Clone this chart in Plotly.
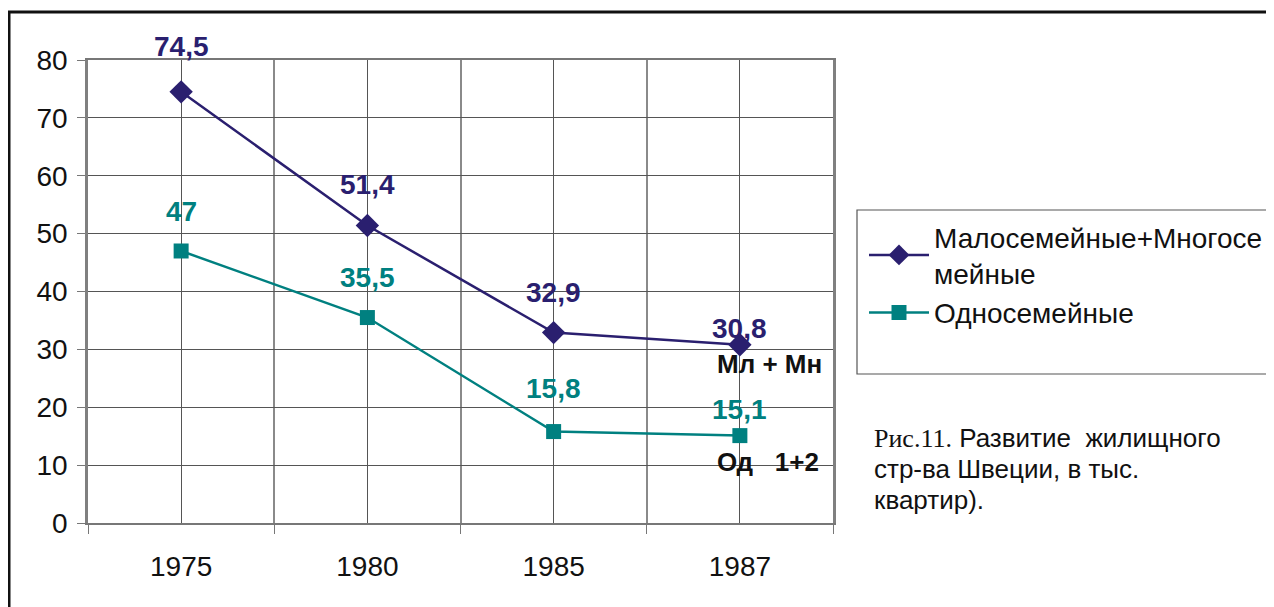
import plotly.graph_objects as go

# ---- data ----
years = ["1975", "1980", "1985", "1987"]
multi_family = [74.5, 51.4, 32.9, 30.8]   # Малосемейные+Многосемейные
single_family = [47.0, 35.5, 15.8, 15.1]  # Односемейные
name_multi = "Малосемейные+Многосе<br>мейные"
name_single = "Односемейные"
end_label_multi = "Мл + Мн"
end_label_single = "Од\u00a0\u00a0\u00a01+2"
caption_lines = [
    '<span style="font-family:\'Liberation Serif\', \'Times New Roman\', serif">Рис.11.</span>'
    ' Развитие\u00a0\u00a0жилищного',
    'стр-ва Швеции, в тыс.',
    'квартир).',
]
y_ticks = [0, 10, 20, 30, 40, 50, 60, 70, 80]

# ---- styles ----
NAVY = "#2A1F6F"
TEAL = "#008080"
FONT = "Liberation Sans, Arial, sans-serif"
shift_multi = [45, 41, 40, 16]
shift_single = [39, 40, 43, 26]

xpos = list(range(len(years)))

fig = go.Figure()
fig.add_trace(go.Scatter(
    x=xpos, y=multi_family, name=name_multi, mode="lines+markers",
    line=dict(color=NAVY, width=2.5),
    marker=dict(symbol="diamond", size=18, color=NAVY),
))
fig.add_trace(go.Scatter(
    x=xpos, y=single_family, name=name_single, mode="lines+markers",
    line=dict(color=TEAL, width=2.5),
    marker=dict(symbol="square", size=15, color=TEAL),
))

def fmt(v):
    s = f"{v:g}"
    return s.replace(".", ",")

# page offset (body margin) and plot-area placement in page pixels
OFF = 8
W, H = 1274, 607
PL, PR, PT, PB = 88, 833, 60, 523
L, T = PL - OFF, PT - OFF
pw, ph = PR - PL, PB - PT

def px_x(p):
    return (p - PL) / pw

def px_y(p):
    return (PB - p) / ph

anns = []
for xi, v, sh in zip(xpos, multi_family, shift_multi):
    anns.append(dict(x=xi, y=v, xref="x", yref="y", text=f"<b>{fmt(v)}</b>",
                     showarrow=False, yshift=sh,
                     font=dict(family=FONT, size=28, color=NAVY)))
for xi, v, sh in zip(xpos, single_family, shift_single):
    anns.append(dict(x=xi, y=v, xref="x", yref="y", text=f"<b>{fmt(v)}</b>",
                     showarrow=False, yshift=sh,
                     font=dict(family=FONT, size=28, color=TEAL)))
anns.append(dict(x=xpos[-1], y=multi_family[-1], xref="x", yref="y",
                 text=f"<b>{end_label_multi}</b>", showarrow=False,
                 xshift=30, yshift=-19, font=dict(family=FONT, size=26, color="#111")))
anns.append(dict(x=xpos[-1], y=single_family[-1], xref="x", yref="y",
                 text=f"<b>{end_label_single}</b>", showarrow=False,
                 xshift=28, yshift=-26, font=dict(family=FONT, size=26, color="#111")))
cap_y = [438, 469, 500]
for line, yc in zip(caption_lines, cap_y):
    anns.append(dict(x=px_x(872), y=px_y(yc), xref="paper", yref="paper",
                     xanchor="left", yanchor="middle", align="left", showarrow=False,
                     text=line, font=dict(family=FONT, size=26, color="#111")))

shapes = [
    # outer frame
    dict(type="rect", xref="paper", yref="paper",
         x0=px_x(9), x1=px_x(1300), y0=px_y(640), y1=px_y(12),
         line=dict(color="#111", width=3), fillcolor="rgba(0,0,0,0)", layer="above"),
    # legend box
    dict(type="rect", xref="paper", yref="paper",
         x0=px_x(857), x1=px_x(1300), y0=px_y(374), y1=px_y(210),
         line=dict(color="#555", width=1.2), fillcolor="rgba(0,0,0,0)"),
]

fig.update_layout(
    width=W, height=H,
    margin=dict(l=L, r=W - L - pw, t=T, b=H - T - ph),
    paper_bgcolor="white", plot_bgcolor="white",
    font=dict(family=FONT, size=24, color="#111"),
    showlegend=True,
    legend=dict(x=px_x(864), y=px_y(212), xanchor="left", yanchor="top",
                bgcolor="rgba(0,0,0,0)", borderwidth=0,
                font=dict(family=FONT, size=28, color="#111"),
                tracegroupgap=4, itemwidth=60),
    annotations=anns,
    shapes=shapes,
)
fig.update_xaxes(
    range=[-0.5, len(years) - 0.5],
    tickmode="array", tickvals=xpos, ticktext=years,
    ticks="outside", ticklen=17, tickcolor="rgba(0,0,0,0)",
    tickfont=dict(family=FONT, size=28, color="#111"),
    showgrid=True, gridcolor="#555", gridwidth=1,
    minor=dict(tick0=-0.5, dtick=1, ticks="outside", ticklen=9, tickcolor="#777",
               showgrid=True, gridcolor="#8a8a8a", gridwidth=1.5),
    showline=True, linecolor="#777", linewidth=2, mirror=True,
    zeroline=False, fixedrange=True,
)
fig.update_yaxes(
    range=[0, 80], tickvals=y_ticks,
    ticks="outside", ticklen=8, tickcolor="#777", ticklabelstandoff=4,
    tickfont=dict(family=FONT, size=28, color="#111"),
    showgrid=True, gridcolor="#555", gridwidth=1,
    showline=True, linecolor="#808080", linewidth=2.5, mirror=True,
    zeroline=False, fixedrange=True,
)

fig.write_html("out.html")
